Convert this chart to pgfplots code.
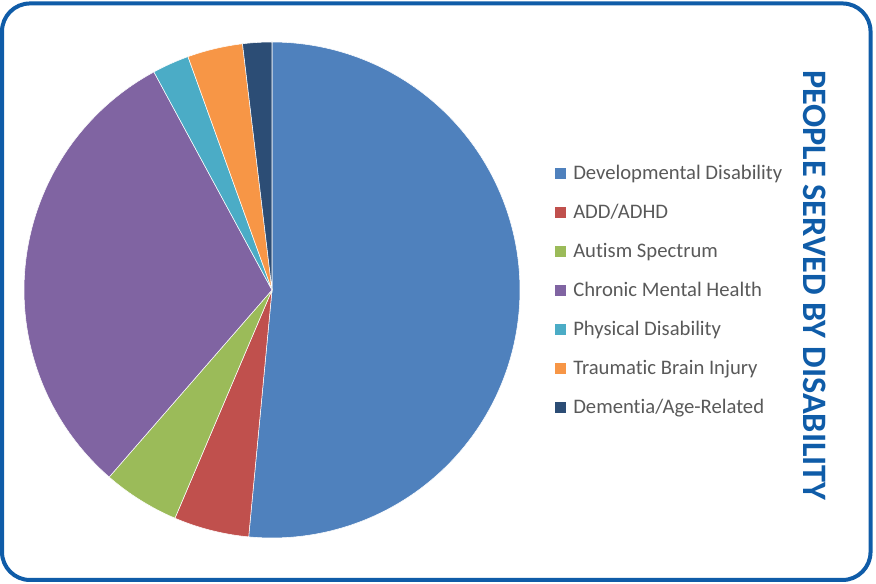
\documentclass[border=0pt]{standalone}
\usepackage{pgfplots}
\pgfplotsset{compat=1.18}
\usepackage{fontspec}
\setmainfont{Carlito}[Ligatures=NoCommon]
\definecolor{cDD}{HTML}{4F81BD}
\definecolor{cADD}{HTML}{C0504D}
\definecolor{cAUT}{HTML}{9BBB59}
\definecolor{cCMH}{HTML}{8064A2}
\definecolor{cPD}{HTML}{4BACC6}
\definecolor{cTBI}{HTML}{F79646}
\definecolor{cDEM}{HTML}{2C4D75}
\definecolor{frame}{RGB}{15,92,168}
\definecolor{legtext}{HTML}{595959}
% shares (percent), clockwise from 12 o'clock
\def\vA{51.5}\def\vB{4.9}\def\vC{5.0}\def\vD{30.7}\def\vE{2.4}\def\vF{3.6}\def\vG{1.9}
\pgfmathsetmacro\aA{90}
\pgfmathsetmacro\aB{\aA-3.6*\vA}
\pgfmathsetmacro\aC{\aB-3.6*\vB}
\pgfmathsetmacro\aD{\aC-3.6*\vC}
\pgfmathsetmacro\aE{\aD-3.6*\vD}
\pgfmathsetmacro\aF{\aE-3.6*\vE}
\pgfmathsetmacro\aG{\aF-3.6*\vF}
\pgfmathsetmacro\aH{\aG-3.6*\vG}
\begin{document}
\begin{tikzpicture}
\useasboundingbox (0,0) rectangle (657pt,438pt);
\draw[frame, line width=3pt, rounded corners=21pt] (1.5pt,435.4pt) rectangle (652.9pt,3pt);
\begin{axis}[
  at={(204pt,220.5pt)}, anchor=center,
  width=372pt, height=372pt, scale only axis,
  xmin=-1, xmax=1, ymin=-1, ymax=1,
  hide axis, clip=false,
  legend style={draw=none, fill=none, inner sep=0pt, font=\fontsize{15.5}{18.5}\selectfont,
    text=legtext, at={(1.07,0.757)}, anchor=north west, row sep=13pt,
    nodes={inner xsep=1.5pt}},
  legend cell align=left,
  every axis plot/.append style={line width=0.4pt, draw=white,
    legend image code/.code={\fill[##1, draw=none] (0pt,-4.1pt) rectangle (8.2pt,4.1pt); \path (12pt,0pt);}},
]
\addplot[fill=cDD, domain=\aB:\aA, samples=120, variable=\t] ({cos(\t)},{sin(\t)}) -- (axis cs:0,0) -- cycle;
\addlegendentry{Developmental Disability}
\addplot[fill=cADD, domain=\aC:\aB, samples=20, variable=\t] ({cos(\t)},{sin(\t)}) -- (axis cs:0,0) -- cycle;
\addlegendentry{ADD/ADHD}
\addplot[fill=cAUT, domain=\aD:\aC, samples=20, variable=\t] ({cos(\t)},{sin(\t)}) -- (axis cs:0,0) -- cycle;
\addlegendentry{Autism Spectrum}
\addplot[fill=cCMH, domain=\aE:\aD, samples=80, variable=\t] ({cos(\t)},{sin(\t)}) -- (axis cs:0,0) -- cycle;
\addlegendentry{Chronic Mental Health}
\addplot[fill=cPD, domain=\aF:\aE, samples=12, variable=\t] ({cos(\t)},{sin(\t)}) -- (axis cs:0,0) -- cycle;
\addlegendentry{Physical Disability}
\addplot[fill=cTBI, domain=\aG:\aF, samples=15, variable=\t] ({cos(\t)},{sin(\t)}) -- (axis cs:0,0) -- cycle;
\addlegendentry{Traumatic Brain Injury}
\addplot[fill=cDEM, domain=\aH:\aG, samples=10, variable=\t] ({cos(\t)},{sin(\t)}) -- (axis cs:0,0) -- cycle;
\addlegendentry{Dementia/Age-Related}
\end{axis}
\node[rotate=-90, text=frame, font=\fontsize{25.7}{30}\selectfont\bfseries] at (611pt,224pt) {PEOPLE SERVED BY DISABILITY};
\end{tikzpicture}
\end{document}
